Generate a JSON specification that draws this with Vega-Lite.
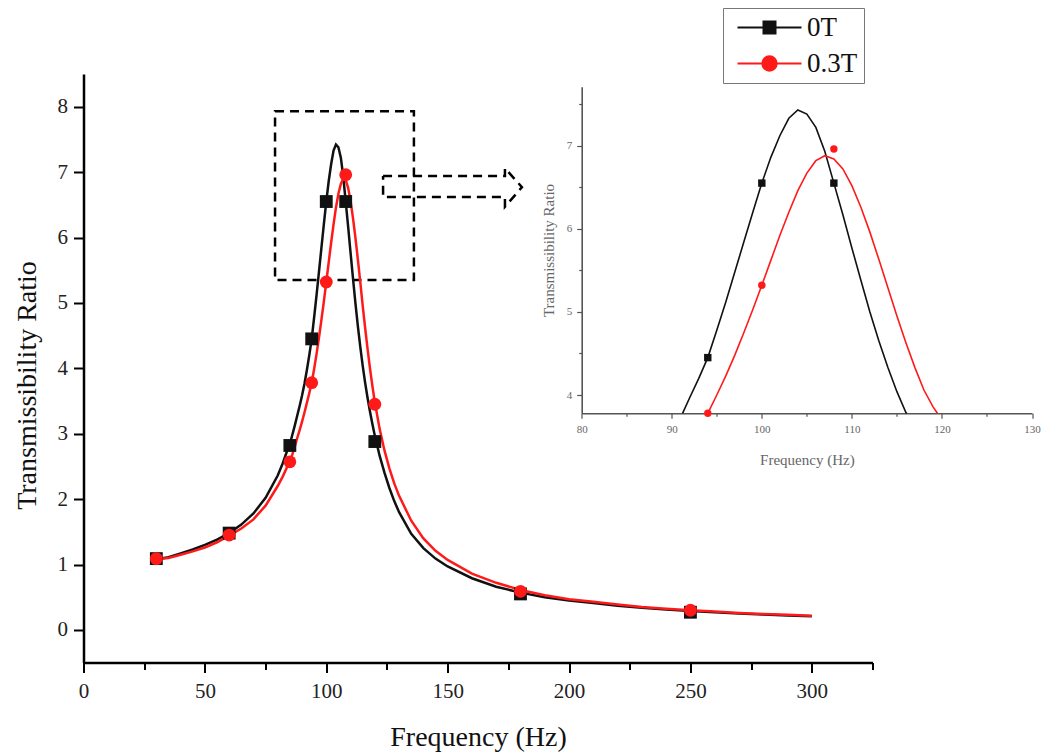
{
  "$schema": "https://vega.github.io/schema/vega-lite/v6.json",
  "width": 789,
  "height": 588.6,
  "autosize": {"type": "none"},
  "padding": {"left": 83.5, "top": 74, "right": 175.5, "bottom": 93.4},
  "background": "white",
  "config": {
    "view": {"stroke": null},
    "font": "Liberation Serif",
    "axis": {"grid": false, "labelFlush": false, "labelOverlap": false}
  },
  "datasets": {
    "markers": [
      {"series": "0T", "f": 30, "t": 1.09},
      {"series": "0T", "f": 60, "t": 1.48},
      {"series": "0T", "f": 85, "t": 2.82},
      {"series": "0T", "f": 94, "t": 4.45},
      {"series": "0T", "f": 100, "t": 6.55},
      {"series": "0T", "f": 108, "t": 6.55},
      {"series": "0T", "f": 120, "t": 2.88},
      {"series": "0T", "f": 180, "t": 0.55},
      {"series": "0T", "f": 250, "t": 0.27},
      {"series": "0.3T", "f": 30, "t": 1.09},
      {"series": "0.3T", "f": 60, "t": 1.45},
      {"series": "0.3T", "f": 85, "t": 2.57},
      {"series": "0.3T", "f": 94, "t": 3.78},
      {"series": "0.3T", "f": 100, "t": 5.32},
      {"series": "0.3T", "f": 108, "t": 6.96},
      {"series": "0.3T", "f": 120, "t": 3.45},
      {"series": "0.3T", "f": 180, "t": 0.59},
      {"series": "0.3T", "f": 250, "t": 0.30}
    ],
    "curves": [
      {"series": "0T", "f": 30, "t": 1.08}, {"series": "0T", "f": 35, "t": 1.11}, {"series": "0T", "f": 40, "t": 1.17},
      {"series": "0T", "f": 45, "t": 1.23}, {"series": "0T", "f": 50, "t": 1.30}, {"series": "0T", "f": 55, "t": 1.38},
      {"series": "0T", "f": 60, "t": 1.48}, {"series": "0T", "f": 65, "t": 1.61}, {"series": "0T", "f": 70, "t": 1.78},
      {"series": "0T", "f": 75, "t": 2.02}, {"series": "0T", "f": 80, "t": 2.36}, {"series": "0T", "f": 82, "t": 2.54},
      {"series": "0T", "f": 84, "t": 2.75}, {"series": "0T", "f": 85, "t": 2.84}, {"series": "0T", "f": 86, "t": 2.98},
      {"series": "0T", "f": 87, "t": 3.12}, {"series": "0T", "f": 88, "t": 3.27}, {"series": "0T", "f": 89, "t": 3.42},
      {"series": "0T", "f": 90, "t": 3.58}, {"series": "0T", "f": 91, "t": 3.76}, {"series": "0T", "f": 92, "t": 3.97},
      {"series": "0T", "f": 93, "t": 4.20}, {"series": "0T", "f": 94, "t": 4.45}, {"series": "0T", "f": 95, "t": 4.78},
      {"series": "0T", "f": 96, "t": 5.12}, {"series": "0T", "f": 97, "t": 5.48}, {"series": "0T", "f": 98, "t": 5.84},
      {"series": "0T", "f": 99, "t": 6.20}, {"series": "0T", "f": 100, "t": 6.55}, {"series": "0T", "f": 101, "t": 6.86},
      {"series": "0T", "f": 102, "t": 7.12}, {"series": "0T", "f": 103, "t": 7.33}, {"series": "0T", "f": 104, "t": 7.42},
      {"series": "0T", "f": 105, "t": 7.38}, {"series": "0T", "f": 106, "t": 7.22}, {"series": "0T", "f": 107, "t": 6.93},
      {"series": "0T", "f": 108, "t": 6.55}, {"series": "0T", "f": 109, "t": 6.17}, {"series": "0T", "f": 110, "t": 5.77},
      {"series": "0T", "f": 111, "t": 5.38}, {"series": "0T", "f": 112, "t": 5.00}, {"series": "0T", "f": 113, "t": 4.65},
      {"series": "0T", "f": 114, "t": 4.33}, {"series": "0T", "f": 115, "t": 4.04}, {"series": "0T", "f": 116, "t": 3.78},
      {"series": "0T", "f": 117, "t": 3.55}, {"series": "0T", "f": 118, "t": 3.34}, {"series": "0T", "f": 119, "t": 3.15},
      {"series": "0T", "f": 120, "t": 2.97}, {"series": "0T", "f": 122, "t": 2.66}, {"series": "0T", "f": 124, "t": 2.40},
      {"series": "0T", "f": 126, "t": 2.17}, {"series": "0T", "f": 128, "t": 1.97}, {"series": "0T", "f": 130, "t": 1.80},
      {"series": "0T", "f": 135, "t": 1.47}, {"series": "0T", "f": 140, "t": 1.25}, {"series": "0T", "f": 145, "t": 1.09},
      {"series": "0T", "f": 150, "t": 0.97}, {"series": "0T", "f": 160, "t": 0.79}, {"series": "0T", "f": 170, "t": 0.66},
      {"series": "0T", "f": 180, "t": 0.57}, {"series": "0T", "f": 190, "t": 0.50}, {"series": "0T", "f": 200, "t": 0.45},
      {"series": "0T", "f": 210, "t": 0.41}, {"series": "0T", "f": 220, "t": 0.37}, {"series": "0T", "f": 230, "t": 0.34},
      {"series": "0T", "f": 240, "t": 0.31}, {"series": "0T", "f": 250, "t": 0.29}, {"series": "0T", "f": 260, "t": 0.27},
      {"series": "0T", "f": 270, "t": 0.25}, {"series": "0T", "f": 280, "t": 0.235}, {"series": "0T", "f": 290, "t": 0.22},
      {"series": "0T", "f": 300, "t": 0.21},
      {"series": "0.3T", "f": 30, "t": 1.08}, {"series": "0.3T", "f": 35, "t": 1.10}, {"series": "0.3T", "f": 40, "t": 1.15},
      {"series": "0.3T", "f": 45, "t": 1.20}, {"series": "0.3T", "f": 50, "t": 1.26}, {"series": "0.3T", "f": 55, "t": 1.34},
      {"series": "0.3T", "f": 60, "t": 1.44}, {"series": "0.3T", "f": 65, "t": 1.55}, {"series": "0.3T", "f": 70, "t": 1.69},
      {"series": "0.3T", "f": 75, "t": 1.90}, {"series": "0.3T", "f": 80, "t": 2.20}, {"series": "0.3T", "f": 82, "t": 2.34},
      {"series": "0.3T", "f": 84, "t": 2.50}, {"series": "0.3T", "f": 85, "t": 2.58}, {"series": "0.3T", "f": 86, "t": 2.68},
      {"series": "0.3T", "f": 87, "t": 2.80}, {"series": "0.3T", "f": 88, "t": 2.93}, {"series": "0.3T", "f": 89, "t": 3.05},
      {"series": "0.3T", "f": 90, "t": 3.18}, {"series": "0.3T", "f": 91, "t": 3.32}, {"series": "0.3T", "f": 92, "t": 3.47},
      {"series": "0.3T", "f": 93, "t": 3.62}, {"series": "0.3T", "f": 94, "t": 3.78}, {"series": "0.3T", "f": 95, "t": 3.99},
      {"series": "0.3T", "f": 96, "t": 4.22}, {"series": "0.3T", "f": 97, "t": 4.47}, {"series": "0.3T", "f": 98, "t": 4.74},
      {"series": "0.3T", "f": 99, "t": 5.02}, {"series": "0.3T", "f": 100, "t": 5.32}, {"series": "0.3T", "f": 101, "t": 5.62},
      {"series": "0.3T", "f": 102, "t": 5.92}, {"series": "0.3T", "f": 103, "t": 6.20}, {"series": "0.3T", "f": 104, "t": 6.46},
      {"series": "0.3T", "f": 105, "t": 6.67}, {"series": "0.3T", "f": 106, "t": 6.82}, {"series": "0.3T", "f": 107, "t": 6.90},
      {"series": "0.3T", "f": 108, "t": 6.88}, {"series": "0.3T", "f": 109, "t": 6.76}, {"series": "0.3T", "f": 110, "t": 6.56},
      {"series": "0.3T", "f": 111, "t": 6.30}, {"series": "0.3T", "f": 112, "t": 6.00}, {"series": "0.3T", "f": 113, "t": 5.67},
      {"series": "0.3T", "f": 114, "t": 5.32}, {"series": "0.3T", "f": 115, "t": 4.96}, {"series": "0.3T", "f": 116, "t": 4.62},
      {"series": "0.3T", "f": 117, "t": 4.30}, {"series": "0.3T", "f": 118, "t": 4.00}, {"series": "0.3T", "f": 119, "t": 3.73},
      {"series": "0.3T", "f": 120, "t": 3.48}, {"series": "0.3T", "f": 122, "t": 3.07}, {"series": "0.3T", "f": 124, "t": 2.74},
      {"series": "0.3T", "f": 126, "t": 2.47}, {"series": "0.3T", "f": 128, "t": 2.24}, {"series": "0.3T", "f": 130, "t": 2.05},
      {"series": "0.3T", "f": 135, "t": 1.67}, {"series": "0.3T", "f": 140, "t": 1.40}, {"series": "0.3T", "f": 145, "t": 1.21},
      {"series": "0.3T", "f": 150, "t": 1.07}, {"series": "0.3T", "f": 160, "t": 0.86}, {"series": "0.3T", "f": 170, "t": 0.72},
      {"series": "0.3T", "f": 180, "t": 0.61}, {"series": "0.3T", "f": 190, "t": 0.53}, {"series": "0.3T", "f": 200, "t": 0.47},
      {"series": "0.3T", "f": 210, "t": 0.43}, {"series": "0.3T", "f": 220, "t": 0.39}, {"series": "0.3T", "f": 230, "t": 0.35},
      {"series": "0.3T", "f": 240, "t": 0.325}, {"series": "0.3T", "f": 250, "t": 0.30}, {"series": "0.3T", "f": 260, "t": 0.28},
      {"series": "0.3T", "f": 270, "t": 0.26}, {"series": "0.3T", "f": 280, "t": 0.245}, {"series": "0.3T", "f": 290, "t": 0.23},
      {"series": "0.3T", "f": 300, "t": 0.215}
    ],
    "insetCurves": [
      {"series": "0T", "f": 91.2, "t": 3.78}, {"series": "0T", "f": 92, "t": 3.97}, {"series": "0T", "f": 93, "t": 4.20},
      {"series": "0T", "f": 94, "t": 4.45}, {"series": "0T", "f": 95, "t": 4.78}, {"series": "0T", "f": 96, "t": 5.12},
      {"series": "0T", "f": 97, "t": 5.48}, {"series": "0T", "f": 98, "t": 5.84}, {"series": "0T", "f": 99, "t": 6.20},
      {"series": "0T", "f": 100, "t": 6.55}, {"series": "0T", "f": 101, "t": 6.86}, {"series": "0T", "f": 102, "t": 7.12},
      {"series": "0T", "f": 103, "t": 7.33}, {"series": "0T", "f": 104, "t": 7.43}, {"series": "0T", "f": 105, "t": 7.38},
      {"series": "0T", "f": 106, "t": 7.22}, {"series": "0T", "f": 107, "t": 6.93}, {"series": "0T", "f": 108, "t": 6.55},
      {"series": "0T", "f": 109, "t": 6.17}, {"series": "0T", "f": 110, "t": 5.77}, {"series": "0T", "f": 111, "t": 5.38},
      {"series": "0T", "f": 112, "t": 5.00}, {"series": "0T", "f": 113, "t": 4.65}, {"series": "0T", "f": 114, "t": 4.33},
      {"series": "0T", "f": 115, "t": 4.04}, {"series": "0T", "f": 116, "t": 3.79}, {"series": "0T", "f": 116.1, "t": 3.78},
      {"series": "0.3T", "f": 94, "t": 3.78}, {"series": "0.3T", "f": 95, "t": 4.00}, {"series": "0.3T", "f": 96, "t": 4.23},
      {"series": "0.3T", "f": 97, "t": 4.48}, {"series": "0.3T", "f": 98, "t": 4.75}, {"series": "0.3T", "f": 99, "t": 5.03},
      {"series": "0.3T", "f": 100, "t": 5.32}, {"series": "0.3T", "f": 101, "t": 5.62}, {"series": "0.3T", "f": 102, "t": 5.92},
      {"series": "0.3T", "f": 103, "t": 6.20}, {"series": "0.3T", "f": 104, "t": 6.46}, {"series": "0.3T", "f": 105, "t": 6.67},
      {"series": "0.3T", "f": 106, "t": 6.82}, {"series": "0.3T", "f": 107, "t": 6.88}, {"series": "0.3T", "f": 108, "t": 6.84},
      {"series": "0.3T", "f": 109, "t": 6.72}, {"series": "0.3T", "f": 110, "t": 6.52}, {"series": "0.3T", "f": 111, "t": 6.26},
      {"series": "0.3T", "f": 112, "t": 5.96}, {"series": "0.3T", "f": 113, "t": 5.63}, {"series": "0.3T", "f": 114, "t": 5.29},
      {"series": "0.3T", "f": 115, "t": 4.95}, {"series": "0.3T", "f": 116, "t": 4.63}, {"series": "0.3T", "f": 117, "t": 4.33},
      {"series": "0.3T", "f": 118, "t": 4.06}, {"series": "0.3T", "f": 119, "t": 3.86}, {"series": "0.3T", "f": 119.5, "t": 3.78}
    ],
    "zoomBox": [
      {"f": 78.9, "f2": 136.1, "t": 5.35, "t2": 7.93}
    ],
    "arrow": [
      {"i": 0, "f": 123.4, "t": 6.94},
      {"i": 1, "f": 173.6, "t": 6.94},
      {"i": 2, "f": 173.6, "t": 7.06},
      {"i": 3, "f": 180.6, "t": 6.77},
      {"i": 4, "f": 173.6, "t": 6.47},
      {"i": 5, "f": 173.6, "t": 6.62},
      {"i": 6, "f": 123.4, "t": 6.62},
      {"i": 7, "f": 123.4, "t": 6.94}
    ]
  },
  "layer": [
    {
      "layer": [
        {
          "data": {"name": "zoomBox"},
          "mark": {"type": "rect", "fill": null, "stroke": "#000000", "strokeWidth": 2.5, "strokeDash": [9, 6]},
          "encoding": {
            "x": {
              "field": "f", "type": "quantitative",
              "scale": {"domain": [0, 325], "nice": false, "zero": false},
              "axis": {
                "title": "Frequency (Hz)",
                "values": [0, 25, 50, 75, 100, 125, 150, 175, 200, 225, 250, 275, 300, 325],
                "labelExpr": "datum.value % 50 === 0 ? format(datum.value, 'd') : ''",
                "tickSize": {"condition": {"test": "datum.value % 50 === 0", "value": 10}, "value": 7},
                "tickWidth": 2, "tickColor": "#000000",
                "domainColor": "#000000", "domainWidth": 2.5,
                "labelFont": "Liberation Serif", "labelFontSize": 21, "labelColor": "#222222", "labelPadding": 8,
                "titleFont": "Liberation Serif", "titleFontSize": 28, "titleFontWeight": "normal", "titleColor": "#111111",
                "titlePadding": 22
              }
            },
            "x2": {"field": "f2"},
            "y": {
              "field": "t", "type": "quantitative",
              "scale": {"domain": [-0.5, 8.5], "nice": false, "zero": false},
              "axis": {
                "title": "Transmissibility Ratio",
                "values": [0, 0.5, 1, 1.5, 2, 2.5, 3, 3.5, 4, 4.5, 5, 5.5, 6, 6.5, 7, 7.5, 8, 8.5],
                "labelExpr": "datum.value % 1 === 0 ? format(datum.value, 'd') : ''",
                "tickSize": {"condition": {"test": "datum.value % 1 === 0", "value": 10}, "value": 7},
                "tickWidth": 2, "tickColor": "#000000",
                "domainColor": "#000000", "domainWidth": 2.5,
                "labelFont": "Liberation Serif", "labelFontSize": 21, "labelColor": "#222222", "labelPadding": 6,
                "titleFont": "Liberation Serif", "titleFontSize": 28, "titleFontWeight": "normal", "titleColor": "#111111",
                "titlePadding": 16, "titleY": 311
              }
            },
            "y2": {"field": "t2"}
          }
        },
        {
          "data": {"name": "arrow"},
          "mark": {"type": "line", "color": "#000000", "strokeWidth": 2.5, "strokeDash": [9, 6]},
          "encoding": {
            "x": {"field": "f", "type": "quantitative"},
            "y": {"field": "t", "type": "quantitative"},
            "order": {"field": "i", "type": "quantitative"}
          }
        },
        {
          "data": {"name": "curves"},
          "mark": {"type": "line", "strokeWidth": 2.5},
          "encoding": {
            "x": {"field": "f", "type": "quantitative"},
            "y": {"field": "t", "type": "quantitative"},
            "color": {
              "field": "series", "type": "nominal",
              "scale": {"domain": ["0T", "0.3T"], "range": ["#111111", "#ff1a1a"]},
              "legend": {
                "title": null,
                "orient": "none", "legendX": 639.5, "legendY": -66,
                "direction": "vertical",
                "strokeColor": "#777777", "fillColor": "#ffffff", "padding": 6,
                "labelFont": "Liberation Serif", "labelFontSize": 27, "labelColor": "#111111",
                "symbolSize": 576, "symbolStrokeWidth": 2, "symbolOffset": 27, "labelOffset": 24, "rowPadding": 8,
                "encode": {
                  "symbols": {
                    "update": {
                      "shape": {"signal": "datum.value === '0T' ? 'M-2.667,0H2.667M-0.5,-0.5H0.5V0.5H-0.5Z' : 'M-2.667,0H2.667M0.6,0A0.6,0.6,0,1,1,-0.6,0A0.6,0.6,0,1,1,0.6,0Z'"},
                      "strokeWidth": {"value": 2},
                      "opacity": {"value": 1}
                    }
                  }
                }
              }
            }
          }
        },
        {
          "data": {"name": "markers"},
          "transform": [{"filter": "datum.series === '0T'"}],
          "mark": {"type": "point", "shape": "square", "filled": true, "size": 165, "opacity": 1},
          "encoding": {
            "x": {"field": "f", "type": "quantitative"},
            "y": {"field": "t", "type": "quantitative"},
            "color": {"field": "series", "type": "nominal"}
          }
        },
        {
          "data": {"name": "markers"},
          "transform": [{"filter": "datum.series === '0.3T'"}],
          "mark": {"type": "point", "shape": "circle", "filled": true, "size": 165, "opacity": 1},
          "encoding": {
            "x": {"field": "f", "type": "quantitative"},
            "y": {"field": "t", "type": "quantitative"},
            "color": {"field": "series", "type": "nominal"}
          }
        }
      ]
    },
    {
      "layer": [
        {
          "data": {"name": "insetCurves"},
          "mark": {"type": "line", "strokeWidth": 1.6},
          "encoding": {
            "x": {
              "field": "f", "type": "quantitative",
              "scale": {"domain": [80, 130], "range": [498.2, 948.5], "nice": false, "zero": false},
              "axis": {
                "orient": "bottom", "offset": -249.3,
                "title": "Frequency (Hz)",
                "values": [80, 85, 90, 95, 100, 105, 110, 115, 120, 125, 130],
                "labelExpr": "datum.value % 10 === 0 ? format(datum.value, 'd') : ''",
                "tickSize": {"condition": {"test": "datum.value % 10 === 0", "value": 5}, "value": 3},
                "tickWidth": 1.2, "tickColor": "#555555",
                "domainColor": "#555555", "domainWidth": 1.6,
                "labelFont": "Liberation Serif", "labelFontSize": 11, "labelColor": "#666666", "labelPadding": 5,
                "titleFont": "Liberation Serif", "titleFontSize": 15, "titleFontWeight": "normal", "titleColor": "#666666",
                "titlePadding": 18
              }
            },
            "y": {
              "field": "t", "type": "quantitative",
              "scale": {"domain": [3.78, 7.71], "range": [339.3, 12.7], "nice": false, "zero": false},
              "axis": {
                "orient": "left", "offset": -498.2,
                "title": "Transmissibility Ratio",
                "values": [4, 4.5, 5, 5.5, 6, 6.5, 7, 7.5],
                "labelExpr": "datum.value % 1 === 0 ? format(datum.value, 'd') : ''",
                "tickSize": {"condition": {"test": "datum.value % 1 === 0", "value": 5}, "value": 3},
                "tickWidth": 1.2, "tickColor": "#555555",
                "domainColor": "#555555", "domainWidth": 1.6,
                "labelFont": "Liberation Serif", "labelFontSize": 11, "labelColor": "#666666", "labelPadding": 5,
                "titleFont": "Liberation Serif", "titleFontSize": 15, "titleFontWeight": "normal", "titleColor": "#666666",
                "titlePadding": 10
              }
            },
            "color": {"field": "series", "type": "nominal", "legend": null}
          }
        },
        {
          "data": {"name": "markers"},
          "transform": [{"filter": "datum.series === '0T' && datum.f >= 80 && datum.f <= 130 && datum.t >= 3.7"}],
          "mark": {"type": "point", "shape": "square", "filled": true, "size": 55, "opacity": 1},
          "encoding": {
            "x": {"field": "f", "type": "quantitative"},
            "y": {"field": "t", "type": "quantitative"},
            "color": {"field": "series", "type": "nominal", "legend": null}
          }
        },
        {
          "data": {"name": "markers"},
          "transform": [{"filter": "datum.series === '0.3T' && datum.f >= 80 && datum.f <= 130 && datum.t >= 3.7"}],
          "mark": {"type": "point", "shape": "circle", "filled": true, "size": 55, "opacity": 1},
          "encoding": {
            "x": {"field": "f", "type": "quantitative"},
            "y": {"field": "t", "type": "quantitative"},
            "color": {"field": "series", "type": "nominal", "legend": null}
          }
        }
      ]
    }
  ],
  "resolve": {
    "scale": {"x": "independent", "y": "independent"},
    "axis": {"x": "independent", "y": "independent"}
  }
}
